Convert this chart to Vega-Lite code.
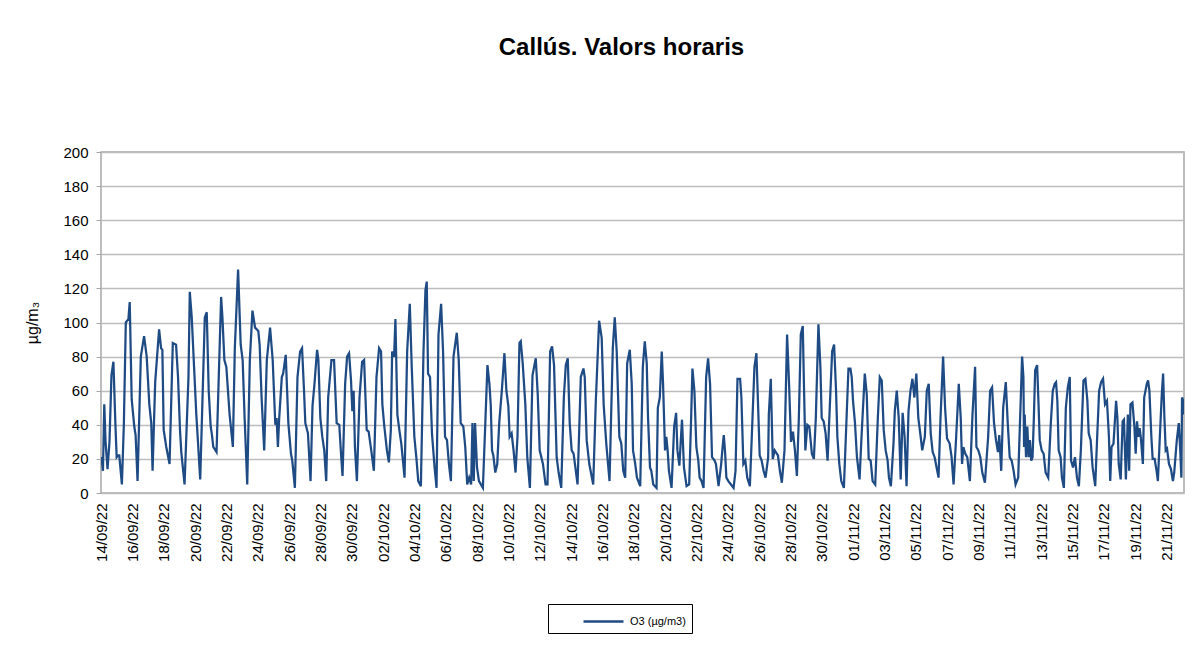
{
"$schema": "https://vega.github.io/schema/vega-lite/v6.json",
"autosize": "none",
"width": 1083,
"height": 341,
"padding": {"left": 101, "top": 152, "right": 20, "bottom": 157},
"background": "white",
"title": {"text": "Callús. Valors horaris", "font": "Liberation Sans", "fontSize": 24, "fontWeight": "bold", "color": "black", "anchor": "middle", "dx": -21, "offset": 85},
"config": {
  "view": {"stroke": "#a6a6a6", "strokeWidth": 1.5},
  "axis": {"labelFont": "Liberation Sans", "titleFont": "Liberation Sans", "labelColor": "black", "titleColor": "black", "domainColor": "#a6a6a6", "tickColor": "#a6a6a6"}
},
"data": {"values": [
{"h":0,"v":21},{"h":1,"v":20},{"h":3,"v":13},{"h":5,"v":52},{"h":7,"v":30},{"h":10,"v":14},{"h":13,"v":30},{"h":16,"v":69},{"h":19,"v":77},{"h":22,"v":41},{"h":24,"v":21},{"h":26,"v":22},{"h":28,"v":22},{"h":32,"v":5},{"h":35,"v":40},{"h":38,"v":100},{"h":42,"v":102},{"h":44,"v":112},{"h":47,"v":55},{"h":51,"v":39},{"h":53,"v":34},{"h":56,"v":7},{"h":61,"v":80},{"h":66,"v":92},{"h":70,"v":80},{"h":74,"v":52},{"h":77,"v":41},{"h":79,"v":13},{"h":83,"v":65},{"h":89,"v":96},{"h":92,"v":85},{"h":94,"v":84},{"h":96,"v":37},{"h":100,"v":27},{"h":105,"v":17},{"h":110,"v":88},{"h":115,"v":87},{"h":118,"v":68},{"h":121,"v":37},{"h":123,"v":24},{"h":128,"v":5},{"h":134,"v":68},{"h":136,"v":118},{"h":139,"v":103},{"h":146,"v":46},{"h":152,"v":8},{"h":159,"v":103},{"h":162,"v":106},{"h":165,"v":60},{"h":168,"v":39},{"h":170,"v":34},{"h":172,"v":27},{"h":177,"v":24},{"h":184,"v":115},{"h":186,"v":103},{"h":189,"v":78},{"h":192,"v":74},{"h":197,"v":46},{"h":202,"v":27},{"h":205,"v":85},{"h":210,"v":131},{"h":214,"v":87},{"h":217,"v":78},{"h":220,"v":44},{"h":224,"v":5},{"h":228,"v":78},{"h":232,"v":107},{"h":236,"v":97},{"h":241,"v":95},{"h":243,"v":87},{"h":246,"v":56},{"h":250,"v":25},{"h":254,"v":78},{"h":259,"v":97},{"h":263,"v":78},{"h":267,"v":40},{"h":269,"v":44},
{"h":271,"v":27},{"h":273,"v":44},{"h":277,"v":68},{"h":279,"v":70},{"h":283,"v":81},{"h":287,"v":41},{"h":291,"v":23},{"h":293,"v":19},{"h":297,"v":3},{"h":301,"v":68},{"h":305,"v":83},{"h":308,"v":85},{"h":311,"v":60},{"h":313,"v":41},{"h":317,"v":35},{"h":321,"v":7},{"h":324,"v":51},{"h":327,"v":64},{"h":331,"v":84},{"h":333,"v":78},{"h":336,"v":44},{"h":339,"v":33},{"h":342,"v":25},{"h":345,"v":7},{"h":348,"v":56},{"h":353,"v":78},{"h":357,"v":78},{"h":361,"v":41},{"h":365,"v":40},{"h":368,"v":21},{"h":370,"v":10},{"h":374,"v":64},{"h":377,"v":80},{"h":380,"v":82},{"h":383,"v":66},{"h":385,"v":48},{"h":387,"v":60},{"h":389,"v":27},{"h":392,"v":7},{"h":396,"v":56},{"h":400,"v":77},{"h":403,"v":78},{"h":407,"v":37},{"h":410,"v":36},{"h":414,"v":25},{"h":418,"v":13},{"h":422,"v":68},{"h":426,"v":85},{"h":429,"v":83},{"h":431,"v":52},{"h":434,"v":39},{"h":438,"v":25},{"h":441,"v":18},{"h":444,"v":37},{"h":446,"v":83},{"h":449,"v":80},{"h":451,"v":102},{"h":454,"v":46},{"h":457,"v":37},{"h":460,"v":29},{"h":465,"v":9},{"h":469,"v":83},{"h":473,"v":111},{"h":476,"v":74},{"h":480,"v":33},{"h":483,"v":21},{"h":486,"v":7},{"h":490,"v":4},{"h":494,"v":83},{"h":497,"v":119},{"h":499,"v":124},{"h":501,"v":70},{"h":504,"v":68},{"h":507,"v":35},{"h":511,"v":15},{"h":514,"v":3},{"h":517,"v":93},{"h":521,"v":111},{"h":524,"v":83},{"h":527,"v":33},{"h":530,"v":31},{"h":533,"v":17},{"h":536,"v":7},{"h":540,"v":80},{"h":545,"v":94},{"h":548,"v":78},{"h":551,"v":41},{"h":555,"v":39},
{"h":558,"v":27},{"h":561,"v":5},{"h":564,"v":9},{"h":567,"v":5},{"h":569,"v":41},{"h":571,"v":7},{"h":573,"v":41},{"h":576,"v":15},{"h":579,"v":7},{"h":585,"v":3},{"h":589,"v":44},{"h":592,"v":75},{"h":595,"v":64},{"h":597,"v":52},{"h":599,"v":25},{"h":601,"v":22},{"h":604,"v":12},{"h":607,"v":17},{"h":610,"v":41},{"h":614,"v":60},{"h":618,"v":82},{"h":621,"v":60},{"h":624,"v":51},{"h":626,"v":33},{"h":629,"v":35},{"h":632,"v":25},{"h":635,"v":12},{"h":638,"v":33},{"h":641,"v":88},{"h":643,"v":89},{"h":646,"v":76},{"h":650,"v":52},{"h":653,"v":21},{"h":657,"v":3},{"h":661,"v":69},{"h":666,"v":79},{"h":669,"v":58},{"h":672,"v":25},{"h":677,"v":17},{"h":681,"v":5},{"h":684,"v":5},{"h":688,"v":83},{"h":691,"v":86},{"h":694,"v":75},{"h":698,"v":21},{"h":701,"v":12},{"h":705,"v":3},{"h":709,"v":56},{"h":712,"v":75},{"h":715,"v":79},{"h":718,"v":41},{"h":721,"v":25},{"h":724,"v":23},{"h":730,"v":5},{"h":735,"v":68},{"h":739,"v":73},{"h":741,"v":68},{"h":744,"v":31},{"h":748,"v":17},{"h":754,"v":5},{"h":758,"v":54},{"h":763,"v":101},{"h":767,"v":91},{"h":770,"v":52},{"h":774,"v":29},{"h":779,"v":7},{"h":784,"v":85},{"h":787,"v":103},{"h":790,"v":83},{"h":794,"v":33},{"h":797,"v":29},{"h":800,"v":13},{"h":803,"v":9},{"h":806,"v":76},{"h":810,"v":84},{"h":813,"v":64},{"h":815,"v":25},{"h":818,"v":18},{"h":821,"v":9},{"h":826,"v":4},{"h":830,"v":74},
{"h":833,"v":89},{"h":836,"v":76},{"h":838,"v":44},{"h":841,"v":15},{"h":843,"v":13},{"h":846,"v":5},{"h":851,"v":3},{"h":853,"v":50},{"h":856,"v":56},{"h":859,"v":83},{"h":861,"v":64},{"h":864,"v":25},{"h":866,"v":33},{"h":868,"v":25},{"h":870,"v":13},{"h":874,"v":3},{"h":878,"v":39},{"h":881,"v":47},{"h":883,"v":25},{"h":886,"v":16},{"h":890,"v":43},{"h":893,"v":15},{"h":897,"v":4},{"h":901,"v":5},{"h":904,"v":44},{"h":906,"v":73},{"h":909,"v":60},{"h":912,"v":27},{"h":915,"v":19},{"h":917,"v":9},{"h":920,"v":7},{"h":923,"v":3},{"h":927,"v":68},{"h":930,"v":79},{"h":933,"v":64},{"h":936,"v":21},{"h":940,"v":19},{"h":942,"v":17},{"h":946,"v":4},{"h":950,"v":17},{"h":952,"v":26},{"h":954,"v":34},{"h":956,"v":24},{"h":958,"v":9},{"h":961,"v":7},{"h":965,"v":5},{"h":969,"v":3},{"h":972,"v":13},{"h":975,"v":67},{"h":979,"v":67},{"h":981,"v":56},{"h":984,"v":17},{"h":987,"v":19},{"h":990,"v":9},{"h":994,"v":4},{"h":998,"v":44},{"h":1001,"v":74},{"h":1004,"v":82},{"h":1007,"v":46},{"h":1009,"v":22},{"h":1012,"v":19},{"h":1015,"v":13},{"h":1018,"v":9},{"h":1022,"v":21},{"h":1023,"v":46},{"h":1026,"v":67},{"h":1029,"v":20},{"h":1032,"v":25},{"h":1037,"v":22},{"h":1040,"v":13},{"h":1043,"v":6},{"h":1047,"v":25},{"h":1051,"v":93},{"h":1054,"v":64},{"h":1057,"v":30},{"h":1060,"v":36},{"h":1063,"v":25},{"h":1066,"v":10},{"h":1069,"v":44},{"h":1072,"v":93},{"h":1075,"v":98},{"h":1077,"v":60},{"h":1079,"v":25},{"h":1082,"v":40},{"h":1085,"v":39},{"h":1089,"v":23},{"h":1092,"v":20},{"h":1095,"v":44},{"h":1099,"v":99},{"h":1102,"v":74},{"h":1104,"v":44},{"h":1107,"v":42},{"h":1110,"v":35},{"h":1113,"v":19},{"h":1117,"v":56},{"h":1120,"v":83},
{"h":1123,"v":87},{"h":1126,"v":60},{"h":1128,"v":33},{"h":1131,"v":17},{"h":1134,"v":7},{"h":1138,"v":3},{"h":1141,"v":33},{"h":1145,"v":73},{"h":1148,"v":73},{"h":1150,"v":68},{"h":1152,"v":54},{"h":1155,"v":41},{"h":1158,"v":21},{"h":1162,"v":8},{"h":1165,"v":33},{"h":1170,"v":70},{"h":1173,"v":58},{"h":1176,"v":20},{"h":1179,"v":19},{"h":1182,"v":7},{"h":1186,"v":5},{"h":1190,"v":44},{"h":1193,"v":68},{"h":1196,"v":66},{"h":1199,"v":37},{"h":1202,"v":25},{"h":1205,"v":19},{"h":1207,"v":9},{"h":1210,"v":4},{"h":1214,"v":29},{"h":1216,"v":48},{"h":1219,"v":60},{"h":1222,"v":44},{"h":1225,"v":8},{"h":1228,"v":47},{"h":1231,"v":33},{"h":1234,"v":4},{"h":1237,"v":48},{"h":1240,"v":60},{"h":1243,"v":67},{"h":1246,"v":56},{"h":1249,"v":70},{"h":1252,"v":44},{"h":1255,"v":35},{"h":1258,"v":25},{"h":1262,"v":33},{"h":1265,"v":60},{"h":1268,"v":64},{"h":1271,"v":35},{"h":1274,"v":24},{"h":1277,"v":21},{"h":1280,"v":15},{"h":1283,"v":9},{"h":1286,"v":44},{"h":1290,"v":80},{"h":1293,"v":50},{"h":1296,"v":32},{"h":1300,"v":29},{"h":1303,"v":21},{"h":1306,"v":5},{"h":1310,"v":33},{"h":1314,"v":64},{"h":1317,"v":44},{"h":1319,"v":17},{"h":1321,"v":27},{"h":1324,"v":23},{"h":1327,"v":21},{"h":1331,"v":7},{"h":1335,"v":46},{"h":1339,"v":74},{"h":1341,"v":27},{"h":1344,"v":25},{"h":1347,"v":21},{"h":1350,"v":12},{"h":1354,"v":6},{"h":1359,"v":33},{"h":1362,"v":60},{"h":1365,"v":62},{"h":1368,"v":41},{"h":1371,"v":31},{"h":1374,"v":24},{"h":1376,"v":34},{"h":1379,"v":13},{"h":1382,"v":50},{"h":1386,"v":65},{"h":1389,"v":41},{"h":1392,"v":21},{"h":1395,"v":19},{"h":1398,"v":13},{"h":1401,"v":5},{"h":1405,"v":9},
{"h":1409,"v":56},{"h":1411,"v":80},{"h":1413,"v":68},{"h":1414,"v":27},{"h":1415,"v":46},{"h":1417,"v":21},{"h":1419,"v":39},{"h":1421,"v":21},{"h":1423,"v":31},{"h":1425,"v":19},{"h":1427,"v":21},{"h":1429,"v":44},{"h":1431,"v":72},{"h":1434,"v":75},{"h":1436,"v":54},{"h":1438,"v":31},{"h":1441,"v":25},{"h":1444,"v":23},{"h":1447,"v":12},{"h":1451,"v":9},{"h":1455,"v":41},{"h":1458,"v":60},{"h":1461,"v":64},{"h":1463,"v":65},{"h":1465,"v":54},{"h":1467,"v":25},{"h":1470,"v":21},{"h":1472,"v":9},{"h":1475,"v":3},{"h":1478,"v":50},{"h":1481,"v":62},{"h":1484,"v":68},{"h":1486,"v":19},{"h":1489,"v":15},{"h":1492,"v":21},{"h":1495,"v":9},{"h":1498,"v":4},{"h":1501,"v":25},{"h":1505,"v":66},{"h":1508,"v":67},{"h":1511,"v":54},{"h":1513,"v":35},{"h":1516,"v":31},{"h":1519,"v":15},{"h":1523,"v":4},{"h":1526,"v":33},{"h":1529,"v":60},{"h":1532,"v":65},{"h":1535,"v":67},{"h":1538,"v":52},{"h":1541,"v":54},{"h":1544,"v":33},{"h":1546,"v":7},{"h":1548,"v":27},{"h":1551,"v":29},{"h":1555,"v":54},{"h":1557,"v":44},{"h":1559,"v":17},{"h":1562,"v":8},{"h":1565,"v":42},{"h":1567,"v":43},{"h":1570,"v":8},{"h":1573,"v":46},{"h":1575,"v":13},{"h":1577,"v":52},{"h":1580,"v":53},{"h":1583,"v":39},{"h":1585,"v":23},{"h":1587,"v":42},{"h":1589,"v":33},{"h":1591,"v":38},{"h":1593,"v":32},{"h":1596,"v":17},{"h":1598,"v":56},{"h":1602,"v":64},{"h":1604,"v":66},{"h":1606,"v":60},{"h":1609,"v":33},{"h":1611,"v":20},{"h":1614,"v":20},{"h":1617,"v":13},{"h":1619,"v":7},{"h":1622,"v":33},{"h":1625,"v":58},{"h":1627,"v":70},{"h":1629,"v":44},{"h":1631,"v":25},{"h":1633,"v":26},{"h":1636,"v":17},{"h":1639,"v":14},{"h":1642,"v":7},{"h":1644,"v":12},{"h":1648,"v":31},{"h":1651,"v":41},{"h":1653,"v":27},{"h":1655,"v":9},{"h":1656,"v":56},{"h":1658,"v":54},{"h":1659,"v":46}
]},
"mark": {"type": "line", "strokeWidth": 2.25, "clip": true},
"encoding": {
  "x": {"field": "h", "type": "quantitative",
        "scale": {"domain": [0, 1659], "nice": false, "zero": false},
        "axis": {"title": null, "grid": false, "ticks": false, "domain": false,
                 "values": [0,48,96,144,192,240,288,336,384,432,480,528,576,624,672,720,768,816,864,912,960,1008,1056,1104,1152,1200,1248,1296,1344,1392,1440,1488,1536,1584,1632],
                 "labelExpr": "utcFormat(utc(2022,8,14) + datum.value*3600000, '%d/%m/%y')",
                 "labelAngle": 270, "labelAlign": "right", "labelBaseline": "middle",
                 "labelFontSize": 15, "labelPadding": 10, "labelOverlap": false, "labelFlush": false}},
  "y": {"field": "v", "type": "quantitative",
        "scale": {"domain": [0, 200], "nice": false},
        "axis": {"title": "µg/m₃", "titleFontSize": 16, "titleFontWeight": "normal", "titlePadding": 22,
                 "values": [0,20,40,60,80,100,120,140,160,180,200],
                 "labelFontSize": 15, "labelPadding": 8, "tickSize": 5, "domain": false,
                 "grid": true, "gridColor": "#bdbdbd", "gridWidth": 1.5}},
  "color": {"datum": "O3 (µg/m3)", "type": "nominal",
            "scale": {"range": ["#1f4b85"]},
            "legend": {"title": null, "orient": "none", "legendX": 447, "legendY": 452,
                       "strokeColor": "black", "fillColor": "white", "padding": 6,
                       "symbolType": "M-2,0H2", "symbolSize": 400, "symbolStrokeWidth": 2.5, "symbolFillColor": "transparent",
                       "symbolOffset": 38, "labelFont": "Liberation Sans", "labelFontSize": 11, "labelColor": "black", "labelOffset": 15}}
}
}
